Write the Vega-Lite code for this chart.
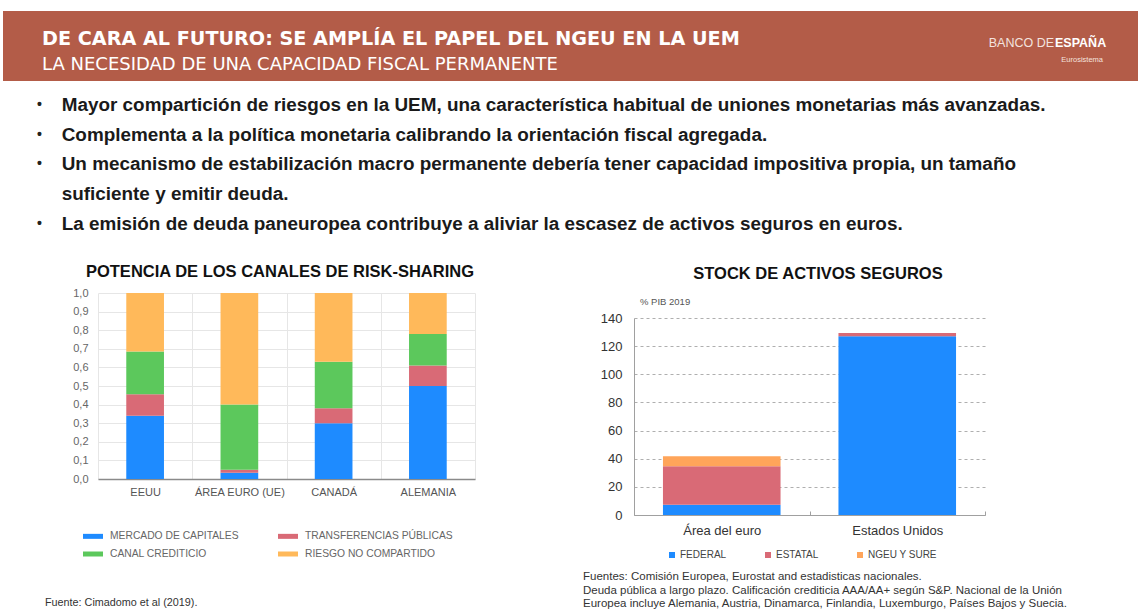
{
  "$schema": "https://vega.github.io/schema/vega-lite/v6.json",
  "padding": {"left": 3, "top": 11, "right": 0, "bottom": 0},
  "background": "white",
  "bounds": "flush",
  "spacing": 0,
  "config": {"font": "Liberation Sans", "view": {"stroke": null}},
  "resolve": {"scale": {"color": "independent"}, "legend": {"color": "independent"}},
  "vconcat": [
    {
      "width": 1135,
      "height": 70,
      "view": {"fill": "#b35c48", "stroke": null},
      "layer": [
        {"data": {"values": [{"t": "DE CARA AL FUTURO: SE AMPLÍA EL PAPEL DEL NGEU EN LA UEM"}]},
         "mark": {"type": "text", "align": "left", "baseline": "middle", "font": "DejaVu Sans", "fontWeight": "bold", "fontSize": 19.2, "color": "#ffffff", "x": 39, "y": 28},
         "encoding": {"text": {"field": "t"}}},
        {"data": {"values": [{"t": "LA NECESIDAD DE UNA CAPACIDAD FISCAL PERMANENTE"}]},
         "mark": {"type": "text", "align": "left", "baseline": "middle", "font": "DejaVu Sans", "fontSize": 18, "color": "#ffffff", "x": 39, "y": 53.5},
         "encoding": {"text": {"field": "t"}}},
        {"data": {"values": [{"t": "BANCO DE"}]},
         "mark": {"type": "text", "align": "right", "baseline": "middle", "fontSize": 12.5, "color": "#f3e3df", "x": 1051, "y": 32},
         "encoding": {"text": {"field": "t"}}},
        {"data": {"values": [{"t": "ESPAÑA"}]},
         "mark": {"type": "text", "align": "left", "baseline": "middle", "fontSize": 12.5, "fontWeight": "bold", "color": "#ffffff", "x": 1052, "y": 32},
         "encoding": {"text": {"field": "t"}}},
        {"data": {"values": [{"t": "Eurosistema"}]},
         "mark": {"type": "text", "align": "right", "baseline": "middle", "fontSize": 7.5, "color": "#f3e3df", "x": 1100, "y": 48.5},
         "encoding": {"text": {"field": "t"}}}
      ]
    },
    {
      "width": 1135,
      "height": 212,
      "data": {"values": [
        {"n": 1, "b": "•", "t": "Mayor compartición de riesgos en la UEM, una característica habitual de uniones monetarias más avanzadas."},
        {"n": 2, "b": "•", "t": "Complementa a la política monetaria calibrando la orientación fiscal agregada."},
        {"n": 3, "b": "•", "t": "Un mecanismo de estabilización macro permanente debería tener capacidad impositiva propia, un tamaño"},
        {"n": 4, "b": "", "t": "suficiente y emitir deuda."},
        {"n": 5, "b": "•", "t": "La emisión de deuda paneuropea contribuye a aliviar la escasez de activos seguros en euros."}
      ]},
      "encoding": {"y": {"field": "n", "type": "ordinal", "axis": null, "scale": {"type": "point", "range": [24, 142.5], "padding": 0}}},
      "layer": [
        {"mark": {"type": "text", "align": "center", "baseline": "middle", "fontSize": 14, "fontWeight": "bold", "color": "#222222", "x": 36.5},
         "encoding": {"text": {"field": "b"}}},
        {"mark": {"type": "text", "align": "left", "baseline": "middle", "fontSize": 18.9, "fontWeight": "bold", "color": "#1a1a1a", "x": 58.7},
         "encoding": {"text": {"field": "t"}}}
      ]
    },
    {
      "bounds": "flush",
      "spacing": 0,
      "resolve": {"scale": {"color": "independent"}, "legend": {"color": "independent"}},
      "hconcat": [
        {
          "width": 95,
          "height": 186,
          "data": {"values": [{"t": "Fuente: Cimadomo et al (2019)."}]},
          "mark": {"type": "text", "align": "left", "baseline": "middle", "fontSize": 10.8, "color": "#333333", "x": 42, "y": 309.7},
          "encoding": {"text": {"field": "t"}}
        },
        {
          "width": 377,
          "height": 186,
          "title": {"text": "POTENCIA DE LOS CANALES DE RISK-SHARING", "fontSize": 16.5, "fontWeight": "bold", "color": "#111111", "anchor": "middle", "frame": "group", "dx": -6.5, "offset": 7},
          "data": {"values": [
            {"pais": "EEUU", "canal": "MERCADO DE CAPITALES", "v": 0.34, "k": 1},
            {"pais": "EEUU", "canal": "TRANSFERENCIAS PÚBLICAS", "v": 0.115, "k": 2},
            {"pais": "EEUU", "canal": "CANAL CREDITICIO", "v": 0.23, "k": 3},
            {"pais": "EEUU", "canal": "RIESGO NO COMPARTIDO", "v": 0.315, "k": 4},
            {"pais": "ÁREA EURO (UE)", "canal": "MERCADO DE CAPITALES", "v": 0.034, "k": 1},
            {"pais": "ÁREA EURO (UE)", "canal": "TRANSFERENCIAS PÚBLICAS", "v": 0.016, "k": 2},
            {"pais": "ÁREA EURO (UE)", "canal": "CANAL CREDITICIO", "v": 0.35, "k": 3},
            {"pais": "ÁREA EURO (UE)", "canal": "RIESGO NO COMPARTIDO", "v": 0.6, "k": 4},
            {"pais": "CANADÁ", "canal": "MERCADO DE CAPITALES", "v": 0.3, "k": 1},
            {"pais": "CANADÁ", "canal": "TRANSFERENCIAS PÚBLICAS", "v": 0.08, "k": 2},
            {"pais": "CANADÁ", "canal": "CANAL CREDITICIO", "v": 0.25, "k": 3},
            {"pais": "CANADÁ", "canal": "RIESGO NO COMPARTIDO", "v": 0.37, "k": 4},
            {"pais": "ALEMANIA", "canal": "MERCADO DE CAPITALES", "v": 0.5, "k": 1},
            {"pais": "ALEMANIA", "canal": "TRANSFERENCIAS PÚBLICAS", "v": 0.11, "k": 2},
            {"pais": "ALEMANIA", "canal": "CANAL CREDITICIO", "v": 0.17, "k": 3},
            {"pais": "ALEMANIA", "canal": "RIESGO NO COMPARTIDO", "v": 0.22, "k": 4}
          ]},
          "mark": {"type": "bar", "width": {"band": 0.4}},
          "encoding": {
            "x": {"field": "pais", "type": "nominal", "sort": null,
                  "scale": {"paddingInner": 0, "paddingOuter": 0},
                  "axis": {"title": null, "labelAngle": 0, "labelFontSize": 11, "labelColor": "#555555", "labelPadding": 7, "ticks": false, "domainColor": "#8a8a8a", "domainWidth": 1.5, "grid": true, "tickBand": "extent", "gridColor": "#e6e6e6"}},
            "y": {"field": "v", "type": "quantitative", "stack": "zero",
                  "scale": {"domain": [0, 1]},
                  "axis": {"title": null, "values": [0, 0.1, 0.2, 0.3, 0.4, 0.5, 0.6, 0.7, 0.8, 0.9, 1], "labelExpr": "replace(format(datum.value, '.1f'), '.', ',')", "labelFontSize": 11, "labelColor": "#666666", "labelPadding": 10, "ticks": false, "domain": false, "gridColor": "#e6e6e6"}},
            "color": {"field": "canal", "type": "nominal",
                      "scale": {"domain": ["MERCADO DE CAPITALES", "TRANSFERENCIAS PÚBLICAS", "CANAL CREDITICIO", "RIESGO NO COMPARTIDO"], "range": ["#1e8bff", "#d96a76", "#5cc85c", "#ffb95a"]},
                      "legend": {"title": null, "orient": "none", "direction": "horizontal", "legendX": -15, "legendY": 233, "columns": 2, "padding": 0, "symbolType": "M-1,-0.25H1V0.25H-1Z", "symbolSize": 400, "symbolStrokeWidth": 0, "labelOffset": 7, "labelFontSize": 10.3, "labelColor": "#666666", "columnPadding": 39, "rowPadding": 2, "labelLimit": 300}},
            "order": {"field": "k", "type": "quantitative"}
          }
        },
        {
          "width": 159,
          "height": 186,
          "data": {"values": [
            {"n": 1, "t": "Fuentes: Comisión Europea, Eurostat and estadisticas nacionales."},
            {"n": 2, "t": "Deuda pública a largo plazo. Calificación crediticia AAA/AA+  según S&P. Nacional de la Unión"},
            {"n": 3, "t": "Europea incluye Alemania, Austria, Dinamarca, Finlandia, Luxemburgo, Países Bajos y Suecia."}
          ]},
          "mark": {"type": "text", "align": "left", "baseline": "middle", "fontSize": 11.5, "color": "#333333", "x": 108},
          "encoding": {
            "y": {"field": "n", "type": "ordinal", "axis": null, "scale": {"type": "point", "range": [284, 311], "padding": 0}},
            "text": {"field": "t"}
          }
        },
        {
          "bounds": "flush",
          "spacing": 0,
          "vconcat": [
            {
              "width": 351,
              "height": 24.5,
              "layer": [
                {"data": {"values": [{"t": "STOCK DE ACTIVOS SEGUROS"}]},
                 "mark": {"type": "text", "align": "center", "baseline": "middle", "fontSize": 16.5, "fontWeight": "bold", "color": "#111111", "x": 184, "y": -19},
                 "encoding": {"text": {"field": "t"}}},
                {"data": {"values": [{"t": "% PIB 2019"}]},
                 "mark": {"type": "text", "align": "left", "baseline": "middle", "fontSize": 9.5, "color": "#555555", "x": 6, "y": 8.7},
                 "encoding": {"text": {"field": "t"}}}
              ]
            },
            {
              "width": 351,
              "height": 197,
              "data": {"values": [
                {"zona": "Área del euro", "tipo": "FEDERAL", "v": 7.3, "k": 1},
                {"zona": "Área del euro", "tipo": "ESTATAL", "v": 27.3, "k": 2},
                {"zona": "Área del euro", "tipo": "NGEU Y SURE", "v": 7.1, "k": 3},
                {"zona": "Estados Unidos", "tipo": "FEDERAL", "v": 127, "k": 1},
                {"zona": "Estados Unidos", "tipo": "ESTATAL", "v": 2.3, "k": 2},
                {"zona": "Estados Unidos", "tipo": "NGEU Y SURE", "v": 0, "k": 3}
              ]},
              "mark": {"type": "bar", "width": {"band": 0.67}},
              "encoding": {
                "x": {"field": "zona", "type": "nominal", "sort": null,
                      "scale": {"paddingInner": 0, "paddingOuter": 0},
                      "axis": {"title": null, "labelAngle": 0, "labelFontSize": 13, "labelColor": "#333333", "labelPadding": 13, "domainColor": "#a0a0a0", "tickBand": "extent", "tickColor": "#a0a0a0", "tickSize": -4}},
                "y": {"field": "v", "type": "quantitative", "stack": "zero",
                      "scale": {"domain": [0, 140]},
                      "axis": {"title": null, "values": [0, 20, 40, 60, 80, 100, 120, 140], "labelFontSize": 13, "labelColor": "#333333", "labelPadding": 12, "ticks": false, "domain": true, "domainColor": "#a0a0a0", "gridColor": "#9a9a9a", "gridDash": [3, 3], "gridWidth": 0.8}},
                "color": {"field": "tipo", "type": "nominal",
                          "scale": {"domain": ["FEDERAL", "ESTATAL", "NGEU Y SURE"], "range": ["#1e8bff", "#d96a76", "#ffa55a"]},
                          "legend": {"title": null, "orient": "none", "legendX": 33, "legendY": 257, "direction": "horizontal", "padding": 0, "symbolType": "square", "symbolSize": 36, "symbolStrokeWidth": 0, "labelOffset": 3, "labelFontSize": 10, "labelColor": "#444444", "columnPadding": 36}},
                "order": {"field": "k", "type": "quantitative"}
              }
            }
          ]
        }
      ]
    }
  ]
}
